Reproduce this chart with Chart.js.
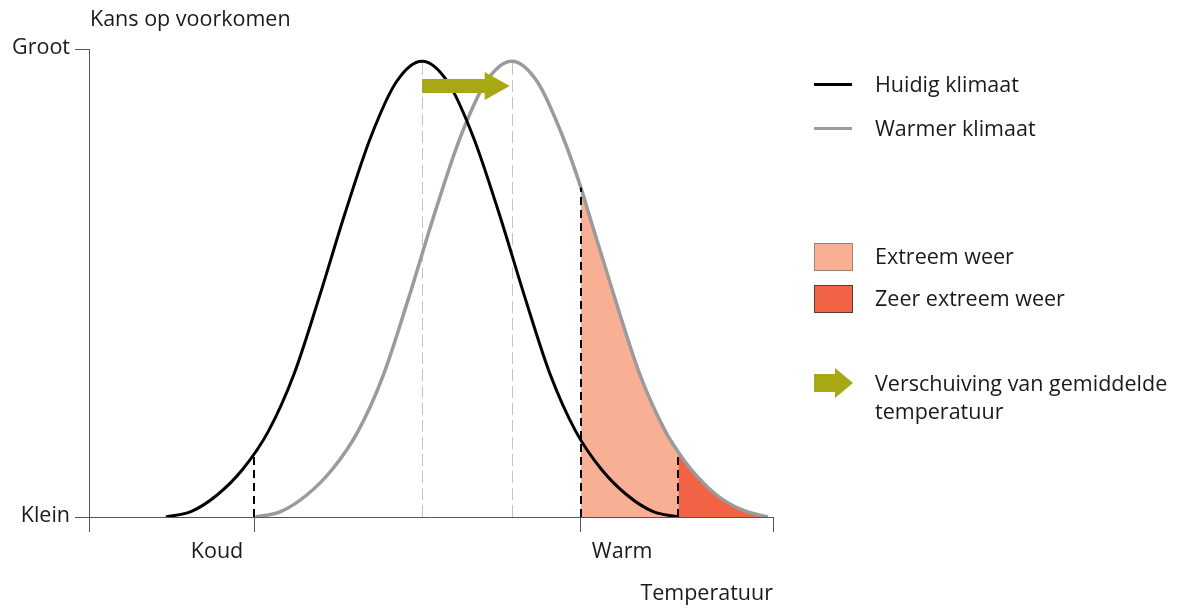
<!DOCTYPE html>
<html>
<head>
<meta charset="utf-8">
<script src="https://cdn.jsdelivr.net/npm/chart.js@4.4.1/dist/chart.umd.min.js"></script>
<style>
  html, body { margin: 0; padding: 0; background: #fff; }
  #wrap { position: relative; width: 1183px; height: 608px; overflow: hidden; font-family: "Open Sans", "Noto Sans", sans-serif; color: #1a1a1a; }
  #c { position: absolute; left: 0; top: 0; }
  .lt { position: absolute; left: 875px; font-size: 21.5px; height: 28px; line-height: 28px; white-space: nowrap; }
  .ls { position: absolute; left: 814px; width: 38px; height: 3px; }
  .lb { position: absolute; left: 814px; width: 37px; height: 26px; }
</style>
</head>
<body>
<div id="wrap">
  <canvas id="c" width="1183" height="608"></canvas>
  <div class="ls" style="top:83px; background:#000;"></div>
  <div class="lt" style="top:70px;">Huidig klimaat</div>
  <div class="ls" style="top:127px; background:#9b9b9b;"></div>
  <div class="lt" style="top:114px;">Warmer klimaat</div>
  <div class="lb" style="top:243px; background:#f9af93; border:1px solid #9a8378;"></div>
  <div class="lt" style="top:242px;">Extreem weer</div>
  <div class="lb" style="top:285px; background:#f26345; border:1px solid #5a3b33;"></div>
  <div class="lt" style="top:284px;">Zeer extreem weer</div>
  <svg style="position:absolute; left:814px; top:368px;" width="40" height="30">
    <polygon points="0,6 21,6 21,0 39,15 21,30 21,24 0,24" fill="#a8a814"/>
  </svg>
  <div class="lt" style="top:369px;">Verschuiving van gemiddelde</div>
  <div class="lt" style="top:397px;">temperatuur</div>
</div>
<script>
// ---- data ----
const blackX = [3, 4, 5, 6, 7, 8, 9, 10, 11, 12, 13, 14, 15, 16, 17, 18, 19, 20, 21, 22, 23];
const blackY = [0, 0.012, 0.047, 0.102, 0.183, 0.305, 0.472, 0.650, 0.812, 0.930, 0.974, 0.930, 0.812, 0.650, 0.472, 0.305, 0.183, 0.102, 0.047, 0.012, 0];
const grayX = [6.5, 7.5, 8.5, 9.5, 10.5, 11.5, 12.5, 13.5, 14.5, 15.5, 16.5, 17.5, 18.5, 19.2, 19.5, 20.5, 21.5, 22.5, 23, 23.5, 24.5, 25.5, 26.5];
const grayY = [0, 0.012, 0.047, 0.102, 0.183, 0.305, 0.472, 0.650, 0.812, 0.930, 0.974, 0.930, 0.812, 0.704, 0.650, 0.472, 0.305, 0.183, 0.139, 0.102, 0.047, 0.015, 0];
const xTickVals = [0, 6.45, 19.2, 26.7];
const yTickVals = [0, 1];
const yTickLabels = ['Klein', 'Groot'];
const xLabelNames = ['Koud', 'Warm'];
const xLabelAt = [6.45, 19.2];
const extremeFrom = 19.2;
const zeerExtremeFrom = 23;
const markerX = [6.45, 19.2, 23];
const markerTop = [0.136, 0.704, 0.139];
const peakX = [13, 16.5];
const peakTop = [0.974, 0.974];
const shiftLevel = 0.921;

const FONT = '21.5px "Open Sans", "Noto Sans", sans-serif';
const TEXT = '#1a1a1a';

const overlay = {
  id: 'overlay',
  beforeDatasetsDraw(chart) {
    const ctx = chart.ctx, xs = chart.scales.x, ys = chart.scales.y;
    ctx.save();
    ctx.strokeStyle = '#c4c4c4';
    ctx.lineWidth = 1;
    ctx.setLineDash([12, 5]);
    peakX.forEach((v, i) => {
      const px = Math.round(xs.getPixelForValue(v)) + 0.5;
      ctx.beginPath();
      ctx.moveTo(px, ys.getPixelForValue(0));
      ctx.lineTo(px, ys.getPixelForValue(peakTop[i]));
      ctx.stroke();
    });
    ctx.restore();
  },
  afterDatasetsDraw(chart) {
    const ctx = chart.ctx, xs = chart.scales.x, ys = chart.scales.y, ca = chart.chartArea;
    ctx.save();
    ctx.strokeStyle = '#000';
    ctx.lineWidth = 2;
    ctx.setLineDash([8, 5]);
    markerX.forEach((v, i) => {
      const px = Math.round(xs.getPixelForValue(v));
      ctx.beginPath();
      ctx.moveTo(px, ys.getPixelForValue(0));
      ctx.lineTo(px, ys.getPixelForValue(markerTop[i]));
      ctx.stroke();
    });
    ctx.setLineDash([]);
    const x0 = xs.getPixelForValue(peakX[0]);
    const x1 = xs.getPixelForValue(peakX[1]) - 2;
    const yc = ys.getPixelForValue(shiftLevel);
    const head = 25;
    ctx.fillStyle = '#a8a814';
    ctx.beginPath();
    ctx.moveTo(x0, yc - 7);
    ctx.lineTo(x1 - head, yc - 7);
    ctx.lineTo(x1 - head, yc - 14);
    ctx.lineTo(x1, yc);
    ctx.lineTo(x1 - head, yc + 14);
    ctx.lineTo(x1 - head, yc + 7);
    ctx.lineTo(x0, yc + 7);
    ctx.closePath();
    ctx.fill();
    ctx.fillStyle = TEXT;
    ctx.font = FONT;
    ctx.textBaseline = 'middle';
    ctx.textAlign = 'right';
    yTickVals.forEach((v, i) => {
      ctx.fillText(yTickLabels[i], ca.left - 19, ys.getPixelForValue(v) - 1);
    });
    ctx.textAlign = 'left';
    ctx.fillText('Kans op voorkomen', ca.left + 1, 20);
    ctx.textAlign = 'right';
    ctx.fillText(xLabelNames[0], xs.getPixelForValue(xLabelAt[0]) - 11, ca.bottom + 35);
    ctx.textAlign = 'left';
    ctx.fillText(xLabelNames[1], xs.getPixelForValue(xLabelAt[1]) + 11, ca.bottom + 35);
    ctx.textAlign = 'right';
    ctx.fillText('Temperatuur', ca.right, ca.bottom + 77);
    ctx.restore();
  }
};

new Chart(document.getElementById('c'), {
  type: 'line',
  data: {
    datasets: [
      {
        label: 'Huidig klimaat',
        data: blackX.map((x, i) => ({ x, y: blackY[i] })),
        borderColor: '#000',
        borderWidth: 3,
        pointRadius: 0,
        cubicInterpolationMode: 'monotone',
        fill: false
      },
      {
        label: 'Warmer klimaat',
        data: grayX.map((x, i) => ({ x, y: grayY[i] })),
        borderColor: '#9b9b9b',
        borderWidth: 3.5,
        pointRadius: 0,
        cubicInterpolationMode: 'monotone',
        fill: 'origin',
        backgroundColor: 'rgba(0,0,0,0)',
        segment: {
          backgroundColor: (c) => {
            const x = c.p0.parsed.x;
            if (x >= zeerExtremeFrom - 1e-6) return '#f26345';
            if (x >= extremeFrom - 1e-6) return '#f9af93';
            return 'rgba(0,0,0,0)';
          }
        }
      }
    ]
  },
  options: {
    responsive: false,
    animation: false,
    devicePixelRatio: 1,
    layout: { padding: { left: 75, right: 410, top: 49, bottom: 76 } },
    plugins: { legend: { display: false }, tooltip: { enabled: false } },
    scales: {
      x: {
        type: 'linear',
        min: 0,
        max: 26.7,
        afterBuildTicks: (s) => { s.ticks = xTickVals.map(v => ({ value: v })); },
        ticks: { display: false },
        grid: { drawOnChartArea: false, drawTicks: true, tickLength: 15, color: '#555', lineWidth: 1 },
        border: { display: true, color: '#555', width: 1 }
      },
      y: {
        type: 'linear',
        min: 0,
        max: 1,
        afterBuildTicks: (s) => { s.ticks = yTickVals.map(v => ({ value: v })); },
        ticks: { display: false },
        grid: { drawOnChartArea: false, drawTicks: true, tickLength: 14, color: '#555', lineWidth: 1 },
        border: { display: true, color: '#555', width: 1 }
      }
    }
  },
  plugins: [overlay]
});
</script>
</body>
</html>
